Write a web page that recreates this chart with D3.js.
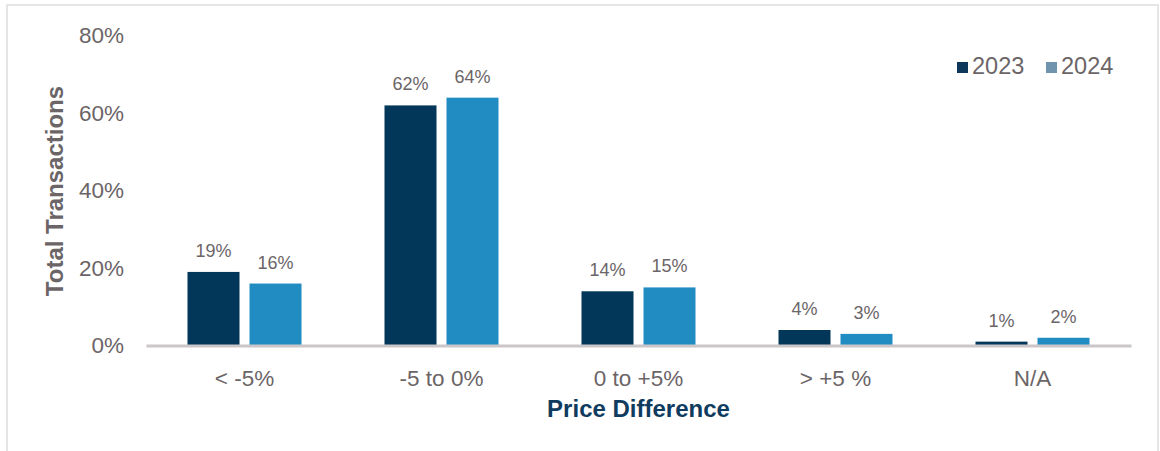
<!DOCTYPE html>
<html>
<head>
<meta charset="utf-8">
<script src="https://cdn.jsdelivr.net/npm/d3@7"></script>
<style>
  body { margin: 0; background: #fff; }
  svg { display: block; font-family: "Liberation Sans", Arial, sans-serif; }
</style>
</head>
<body>
<script>
// data
var categories = ["< -5%", "-5 to 0%", "0 to +5%", "> +5 %", "N/A"];
var years = ["2023", "2024"];
var values2023 = [19, 62, 14, 4, 1];
var values2024 = [16, 64, 15, 3, 2];
var yTicks = [0, 20, 40, 60, 80];

var width = 1160, height = 451;
var barColors = {"2023": "#02375a", "2024": "#218cc2"};
var legendColors = {"2023": "#0d385b", "2024": "#7093ae"};
var textGray = "#6b6567";

var svg = d3.select("body").append("svg")
  .attr("width", width).attr("height", height);

// frame
svg.append("rect")
  .attr("x", 7).attr("y", 5)
  .attr("width", 1151).attr("height", 470)
  .attr("fill", "none")
  .attr("stroke", "#dfdbdb")
  .attr("stroke-width", 1.5);

var y = d3.scaleLinear().domain([0, 80]).range([345.5, 35.7]);
var x0 = d3.scaleBand().domain(categories).range([146, 1131]);
var x1 = d3.scaleBand().domain(years).range([0, 114]).paddingInner(10 / 62);
var groupOffset = (x0.bandwidth() - 114) / 2;

// y tick labels
var yAxis = d3.axisLeft(y).tickValues(yTicks).tickSize(0).tickPadding(0)
  .tickFormat(function(d){ return d + "%"; });
var yg = svg.append("g").attr("transform", "translate(124,0)").call(yAxis);
yg.select(".domain").remove();
yg.selectAll("text")
  .attr("fill", textGray)
  .attr("font-size", "22.5px")
  .attr("font-family", "Liberation Sans, Arial, sans-serif");

var rows = categories.map(function(c, i){
  return {cat: c, vals: [{year: "2023", v: values2023[i]}, {year: "2024", v: values2024[i]}]};
});

var groups = svg.selectAll("g.grp").data(rows).enter().append("g")
  .attr("class", "grp")
  .attr("transform", function(d){ return "translate(" + (x0(d.cat) + groupOffset) + ",0)"; });

groups.selectAll("rect").data(function(d){ return d.vals; }).enter().append("rect")
  .attr("x", function(d){ return x1(d.year); })
  .attr("y", function(d){ return y(d.v); })
  .attr("width", x1.bandwidth())
  .attr("height", function(d){ return y(0) - y(d.v); })
  .attr("fill", function(d){ return barColors[d.year]; });

groups.selectAll("text").data(function(d){ return d.vals; }).enter().append("text")
  .text(function(d){ return d.v + "%"; })
  .attr("x", function(d){ return x1(d.year) + x1.bandwidth() / 2; })
  .attr("y", function(d){ return y(d.v) - 15; })
  .attr("text-anchor", "middle")
  .attr("font-size", "18px")
  .attr("fill", textGray);

// x axis line + category labels
var xAxis = d3.axisBottom(x0).tickSize(0).tickPadding(0);
var xg = svg.append("g").attr("transform", "translate(0," + y(0) + ")").call(xAxis);
xg.select(".domain").attr("stroke", "#cbc6c7").attr("stroke-width", 3);
xg.selectAll("text")
  .attr("y", 40)
  .attr("dy", 0)
  .attr("fill", textGray)
  .attr("font-size", "22.5px")
  .attr("font-family", "Liberation Sans, Arial, sans-serif");

// axis titles
svg.append("text")
  .text("Total Transactions")
  .attr("transform", "translate(63,191) rotate(-90)")
  .attr("text-anchor", "middle")
  .attr("font-size", "24px")
  .attr("font-weight", "bold")
  .attr("fill", textGray);

svg.append("text")
  .text("Price Difference")
  .attr("x", 638.5).attr("y", 417)
  .attr("text-anchor", "middle")
  .attr("font-size", "24px")
  .attr("font-weight", "bold")
  .attr("fill", "#0f3b5e");

// legend
var legendX = [957, 1046];
var leg = svg.selectAll("g.leg").data(years).enter().append("g")
  .attr("class", "leg")
  .attr("transform", function(d, i){ return "translate(" + legendX[i] + ",62)"; });
leg.append("rect")
  .attr("width", 11).attr("height", 11)
  .attr("fill", function(d){ return legendColors[d]; });
leg.append("text")
  .text(function(d){ return d; })
  .attr("x", 15).attr("y", 12)
  .attr("font-size", "23.5px")
  .attr("fill", textGray);
</script>
</body>
</html>
